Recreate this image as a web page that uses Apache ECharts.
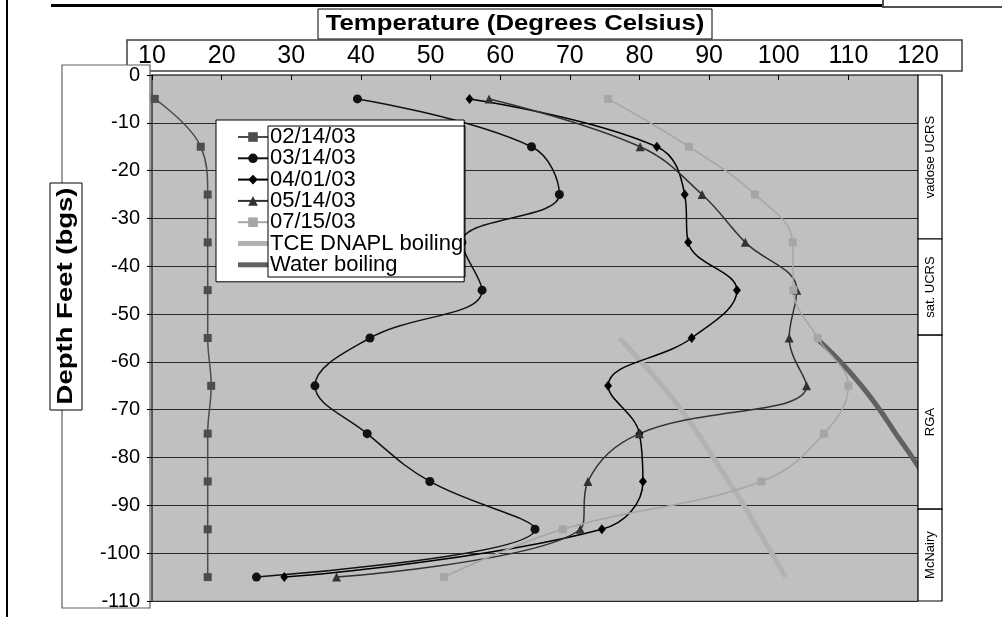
<!DOCTYPE html>
<html>
<head>
<meta charset="utf-8">
<script src="https://cdn.jsdelivr.net/npm/echarts@6/dist/echarts.min.js"></script>
<style>
  html, body { margin: 0; padding: 0; background: #fff; }
  #chart { width: 1002px; height: 617px; }
</style>
</head>
<body>
<div id="chart"></div>
<script>
// depths below ground surface (feet)
const depths = [-5, -15, -25, -35, -45, -55, -65, -75, -85, -95, -105]

// temperature profiles (deg C), one per sampling date
const t021403 = [10.4, 17.0, 18.0, 18.0, 18.0, 18.0, 18.5, 18.0, 18.0, 18.0, 18.0]
const t031403 = [39.5, 64.5, 68.5, 54.5, 57.4, 41.3, 33.4, 40.9, 49.9, 65.0, 25.0]
const t040103 = [55.6, 82.5, 86.5, 87.0, 94.0, 87.5, 75.5, 80.0, 80.5, 74.6, 29.0]
const t051403 = [58.4, 80.1, 89.0, 95.2, 102.6, 101.5, 104.0, 80.0, 72.6, 71.5, 36.5]
const t071503 = [75.5, 87.1, 96.6, 102.0, 102.1, 105.6, 110.0, 106.5, 97.5, 69.0, 51.9]

// boiling point curves
const boilDepths = [-55, -60, -65, -70, -75, -80, -85, -90, -95, -100, -105]
const tceBoiling = [77.1, 80.3, 83.3, 86.0, 88.4, 90.6, 92.8, 95.0, 97.0, 99.0, 101.0]
const waterDepths = [-55, -60, -65, -70, -75, -80, -85, -90]
const waterBoiling = [105.4, 108.9, 111.9, 114.5, 116.8, 119.2, 121.4, 123.5]

const xTicks = [10, 20, 30, 40, 50, 60, 70, 80, 90, 100, 110, 120]

// geologic units (label, top depth, bottom depth)
const units = [
  ['vadose UCRS', 0, -34.3],
  ['sat. UCRS', -34.3, -54.4],
  ['RGA', -54.4, -90.8],
  ['McNairy', -90.8, -110]
]

const pairs = (xs, ys) => xs.map((x, i) => [x, ys[i]])

const FONT = 'Liberation Sans, Arial, sans-serif'
const grid = { left: 152, top: 75, width: 766, height: 526 }
const yPix = d => grid.top + (-d / 110) * grid.height

const dataSeries = (name, temps, symbol, size, color) => ({
  name,
  type: 'line',
  data: pairs(temps, depths),
  smooth: 0.4,
  symbol,
  symbolSize: size,
  showAllSymbol: true,
  lineStyle: { color, width: 1.5 },
  itemStyle: { color },
  emphasis: { disabled: true },
  z: 3
})

const boilSeries = (name, temps, ds, color) => ({
  name,
  type: 'line',
  data: pairs(temps, ds),
  smooth: 0.4,
  symbol: 'none',
  lineStyle: { color, width: 5 },
  itemStyle: { color },
  emphasis: { disabled: true },
  clip: true,
  z: 2
})

const graphics = [
  // frame lines
  { type: 'rect', shape: { x: 6, y: 0, width: 2, height: 617 }, style: { fill: '#000' }, z: -5 },
  { type: 'rect', shape: { x: 51, y: 4, width: 832, height: 3 }, style: { fill: '#000' }, z: -5 },
  { type: 'polyline', shape: { points: [[883, 0], [883, 7], [1002, 7]] }, style: { stroke: '#505050', lineWidth: 2, fill: null }, z: -5 },
  // title box
  { type: 'rect', shape: { x: 318, y: 9, width: 394, height: 30 }, style: { fill: '#fff', stroke: '#000', lineWidth: 1 }, z: -4 },
  { type: 'text', x: 515, y: 24, scaleX: 1.17, style: { text: 'Temperature (Degrees Celsius)', font: 'bold 22px ' + FONT, fill: '#000', align: 'center', verticalAlign: 'middle' }, z: 5 },
  // x labels box
  { type: 'rect', shape: { x: 127, y: 40, width: 835, height: 31 }, style: { fill: '#fff', stroke: '#404040', lineWidth: 1.5 }, z: -4 },
  // y labels box
  { type: 'rect', shape: { x: 62, y: 65, width: 88, height: 543 }, style: { fill: '#fff', stroke: '#606060', lineWidth: 1.2 }, z: -4 },
  // y title box
  { type: 'rect', shape: { x: 50, y: 183, width: 32, height: 227 }, style: { fill: '#fff', stroke: '#000', lineWidth: 1 }, z: 5 },
  { type: 'text', x: 66, y: 296, rotation: Math.PI / 2, scaleX: 1.25, style: { text: 'Depth Feet (bgs)', font: 'bold 22px ' + FONT, fill: '#000', align: 'center', verticalAlign: 'middle' }, z: 6 },
  // legend inner text box
  { type: 'rect', shape: { x: 268, y: 126, width: 197, height: 151 }, style: { fill: null, stroke: '#000', lineWidth: 1 }, z: 100 }
]

units.forEach(([label, top, bottom]) => {
  const y0 = yPix(top)
  const y1 = yPix(bottom)
  graphics.push({ type: 'rect', shape: { x: 918, y: y0, width: 24, height: y1 - y0 }, style: { fill: '#fff', stroke: '#000', lineWidth: 1.2 }, z: 10 })
  graphics.push({ type: 'text', x: 930, y: (y0 + y1) / 2, rotation: Math.PI / 2, style: { text: label, font: '13px ' + FONT, fill: '#000', align: 'center', verticalAlign: 'middle' }, z: 11 })
})

const lineIcon = 'path://M0,0 L30,0 L30,5 L0,5 Z'

const chart = echarts.init(document.getElementById('chart'))

chart.setOption({
  animation: false,
  backgroundColor: '#fff',
  grid: {
    left: grid.left,
    top: grid.top,
    width: grid.width,
    height: grid.height,
    show: true,
    backgroundColor: '#c0c0c0',
    borderColor: '#808080',
    borderWidth: 1
  },
  legend: {
    orient: 'vertical',
    left: 216,
    top: 120,
    data: [
      '02/14/03', '03/14/03', '04/01/03', '05/14/03', '07/15/03',
      { name: 'TCE DNAPL boiling', icon: lineIcon },
      { name: 'Water boiling', icon: lineIcon }
    ],
    backgroundColor: '#fff',
    borderColor: '#000',
    borderWidth: 1,
    padding: [6, 1, 6, 21],
    itemWidth: 30,
    itemHeight: 12,
    itemGap: -0.7,
    selectedMode: false,
    textStyle: { fontFamily: FONT, fontSize: 22, color: '#000', lineHeight: 20, padding: [0, 0, 0, -3] }
  },
  xAxis: {
    type: 'value',
    position: 'top',
    min: 10,
    max: 120,
    interval: 10,
    axisLine: { show: true, lineStyle: { color: '#606060', width: 1.5 } },
    axisTick: { show: true, inside: true, length: 5, lineStyle: { color: '#000' } },
    axisLabel: {
      margin: 6,
      fontFamily: 'Liberation Sans Narrow, Arial Narrow, ' + FONT,
      fontSize: 25,
      color: '#000',
      formatter: v => (xTicks.includes(v) ? String(v) : '')
    },
    splitLine: { show: false }
  },
  yAxis: {
    type: 'value',
    min: -110,
    max: 0,
    interval: 10,
    axisLine: { show: true, lineStyle: { color: '#404040', width: 1.5 } },
    axisTick: { show: true, length: 5, lineStyle: { color: '#000' } },
    axisLabel: { margin: 12, fontFamily: FONT, fontSize: 20, color: '#000' },
    splitLine: { show: true, lineStyle: { color: '#2a2a2a', width: 1 } }
  },
  graphic: graphics,
  series: [
    dataSeries('02/14/03', t021403, 'rect', 8, '#4d4d4d'),
    dataSeries('03/14/03', t031403, 'circle', 9, '#111'),
    dataSeries('04/01/03', t040103, 'diamond', [8, 10], '#000'),
    dataSeries('05/14/03', t051403, 'triangle', 9, '#333'),
    dataSeries('07/15/03', t071503, 'rect', 8, '#a6a6a6'),
    boilSeries('TCE DNAPL boiling', tceBoiling, boilDepths, '#b2b2b2'),
    boilSeries('Water boiling', waterBoiling, waterDepths, '#616161')
  ]
})
</script>
</body>
</html>
